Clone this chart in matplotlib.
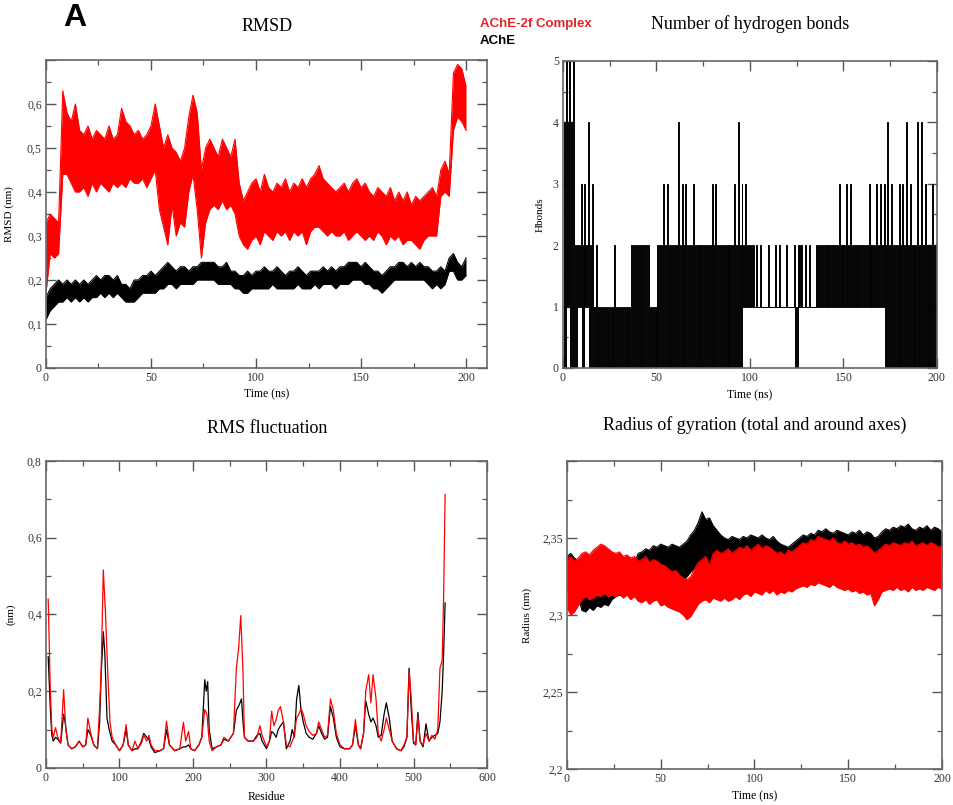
import numpy as np
import matplotlib
matplotlib.use("Agg")
import matplotlib.pyplot as plt
from matplotlib.ticker import MultipleLocator, FuncFormatter

plt.rcParams['font.family'] = ['Liberation Serif', 'DejaVu Serif']

RED = '#ff0000'

# time grid (ns) for the trajectory envelopes, every 2 ns
t_env = np.arange(0, 201, 2)

# RMSD (nm) - AChE-2f complex, upper / lower extent every 2 ns
rmsd_cpx_hi = [0.33, 0.35, 0.34, 0.33, 0.63, 0.58, 0.56, 0.60, 0.54, 0.53,
               0.55, 0.52, 0.54, 0.53, 0.52, 0.55, 0.52, 0.53, 0.59, 0.56,
               0.55, 0.53, 0.54, 0.52, 0.53, 0.55, 0.60, 0.55, 0.50, 0.53,
               0.50, 0.49, 0.47, 0.50, 0.57, 0.62, 0.58, 0.45, 0.50, 0.52,
               0.50, 0.48, 0.52, 0.50, 0.48, 0.52, 0.42, 0.38, 0.40, 0.42,
               0.43, 0.40, 0.44, 0.41, 0.40, 0.42, 0.41, 0.43, 0.40, 0.42,
               0.41, 0.43, 0.41, 0.43, 0.44, 0.46, 0.43, 0.42, 0.41, 0.40,
               0.41, 0.42, 0.40, 0.42, 0.43, 0.41, 0.42, 0.40, 0.39, 0.41,
               0.40, 0.39, 0.41, 0.38, 0.40, 0.38, 0.40, 0.37, 0.39, 0.38,
               0.39, 0.40, 0.41, 0.39, 0.45, 0.47, 0.44, 0.67, 0.69, 0.68,
               0.64]
rmsd_cpx_lo = [0.17, 0.26, 0.25, 0.26, 0.44, 0.44, 0.42, 0.40, 0.40, 0.41,
               0.39, 0.42, 0.40, 0.42, 0.41, 0.40, 0.42, 0.41, 0.42, 0.41,
               0.43, 0.42, 0.42, 0.43, 0.41, 0.43, 0.45, 0.36, 0.32, 0.28,
               0.37, 0.30, 0.33, 0.32, 0.40, 0.44, 0.36, 0.25, 0.33, 0.36,
               0.37, 0.36, 0.38, 0.36, 0.37, 0.35, 0.30, 0.28, 0.27, 0.29,
               0.30, 0.28, 0.31, 0.30, 0.29, 0.31, 0.30, 0.31, 0.29, 0.31,
               0.30, 0.31, 0.28, 0.31, 0.32, 0.32, 0.31, 0.30, 0.31, 0.30,
               0.30, 0.31, 0.29, 0.30, 0.31, 0.30, 0.29, 0.30, 0.29, 0.31,
               0.30, 0.28, 0.30, 0.29, 0.30, 0.28, 0.29, 0.29, 0.28, 0.27,
               0.29, 0.30, 0.30, 0.30, 0.39, 0.40, 0.39, 0.54, 0.57, 0.56,
               0.54]

# RMSD (nm) - apo AChE
rmsd_ache_hi = [0.16, 0.18, 0.19, 0.20, 0.19, 0.20, 0.19, 0.20, 0.19, 0.20,
                0.19, 0.20, 0.21, 0.20, 0.21, 0.21, 0.20, 0.21, 0.19, 0.19,
                0.18, 0.20, 0.20, 0.21, 0.21, 0.22, 0.21, 0.22, 0.23, 0.24,
                0.23, 0.22, 0.23, 0.23, 0.22, 0.23, 0.23, 0.24, 0.24, 0.24,
                0.24, 0.23, 0.23, 0.24, 0.22, 0.22, 0.21, 0.21, 0.22, 0.21,
                0.22, 0.22, 0.23, 0.22, 0.22, 0.23, 0.22, 0.21, 0.22, 0.22,
                0.23, 0.22, 0.21, 0.22, 0.22, 0.22, 0.23, 0.22, 0.23, 0.22,
                0.23, 0.23, 0.24, 0.24, 0.24, 0.23, 0.24, 0.23, 0.22, 0.22,
                0.21, 0.22, 0.23, 0.23, 0.24, 0.24, 0.23, 0.24, 0.23, 0.24,
                0.23, 0.23, 0.22, 0.22, 0.23, 0.22, 0.25, 0.26, 0.24, 0.23,
                0.25]
rmsd_ache_lo = [0.11, 0.13, 0.14, 0.15, 0.15, 0.16, 0.15, 0.16, 0.15, 0.16,
                0.15, 0.16, 0.16, 0.17, 0.16, 0.17, 0.16, 0.17, 0.16, 0.15,
                0.15, 0.15, 0.16, 0.17, 0.17, 0.17, 0.17, 0.18, 0.18, 0.19,
                0.19, 0.18, 0.19, 0.19, 0.19, 0.19, 0.20, 0.20, 0.20, 0.20,
                0.20, 0.19, 0.19, 0.19, 0.19, 0.18, 0.18, 0.17, 0.17, 0.18,
                0.18, 0.18, 0.18, 0.18, 0.19, 0.18, 0.18, 0.18, 0.18, 0.18,
                0.19, 0.18, 0.18, 0.18, 0.19, 0.18, 0.19, 0.19, 0.19, 0.18,
                0.19, 0.19, 0.19, 0.20, 0.20, 0.20, 0.19, 0.19, 0.18, 0.18,
                0.17, 0.18, 0.19, 0.20, 0.20, 0.20, 0.20, 0.20, 0.20, 0.20,
                0.20, 0.19, 0.18, 0.19, 0.18, 0.19, 0.22, 0.22, 0.20, 0.20,
                0.21]

# radius of gyration (nm) - complex
rg_cpx_hi = [2.336, 2.338, 2.335, 2.337, 2.340, 2.341, 2.339, 2.342, 2.344, 2.346,
             2.345, 2.343, 2.341, 2.340, 2.341, 2.338, 2.339, 2.337, 2.338, 2.335,
             2.336, 2.338, 2.334, 2.336, 2.335, 2.333, 2.332, 2.330, 2.328, 2.329,
             2.326, 2.324, 2.323, 2.325, 2.330, 2.334, 2.336, 2.338, 2.332, 2.340,
             2.342, 2.340, 2.341, 2.343, 2.340, 2.342, 2.344, 2.343, 2.345, 2.342,
             2.344, 2.346, 2.343, 2.345, 2.344, 2.342, 2.340, 2.341, 2.339, 2.342,
             2.341, 2.343, 2.345, 2.347, 2.346, 2.349, 2.348, 2.351, 2.350, 2.349,
             2.348, 2.350, 2.347, 2.346, 2.348, 2.346, 2.347, 2.345, 2.346, 2.344,
             2.345, 2.343, 2.340, 2.342, 2.344, 2.346, 2.345, 2.347, 2.346, 2.345,
             2.347, 2.346, 2.348, 2.345, 2.346, 2.347, 2.345, 2.347, 2.346, 2.344,
             2.345]
rg_cpx_lo = [2.305, 2.300, 2.302, 2.306, 2.310, 2.312, 2.310, 2.311, 2.313, 2.312,
             2.314, 2.312, 2.313, 2.312, 2.314, 2.311, 2.313, 2.310, 2.312, 2.309,
             2.308, 2.310, 2.307, 2.309, 2.310, 2.306, 2.307, 2.305, 2.304, 2.303,
             2.302, 2.300, 2.297, 2.299, 2.303, 2.307, 2.309, 2.310, 2.308, 2.311,
             2.310, 2.309, 2.311, 2.309, 2.310, 2.312, 2.310, 2.313, 2.314, 2.312,
             2.315, 2.314, 2.313, 2.316, 2.314, 2.316, 2.313, 2.315, 2.314, 2.316,
             2.315, 2.317, 2.318, 2.319, 2.318, 2.320, 2.319, 2.321, 2.320, 2.319,
             2.318, 2.320, 2.318, 2.317, 2.316, 2.317, 2.315, 2.316, 2.314, 2.315,
             2.313, 2.314, 2.306, 2.310, 2.315, 2.316, 2.317, 2.316, 2.318, 2.316,
             2.317, 2.315, 2.318, 2.316, 2.317, 2.316, 2.318, 2.317, 2.316, 2.318,
             2.317]

# radius of gyration (nm) - apo AChE
rg_ache_hi = [2.338, 2.340, 2.337, 2.335, 2.325, 2.322, 2.324, 2.323, 2.326, 2.325,
              2.327, 2.325, 2.328, 2.330, 2.331, 2.330, 2.332, 2.331, 2.334, 2.340,
              2.341, 2.343, 2.342, 2.345, 2.344, 2.346, 2.345, 2.344, 2.346, 2.345,
              2.344, 2.346, 2.348, 2.352, 2.355, 2.360, 2.367, 2.362, 2.363, 2.358,
              2.355, 2.352, 2.350, 2.349, 2.351, 2.350, 2.349, 2.351, 2.350, 2.352,
              2.351, 2.350, 2.352, 2.350, 2.349, 2.351, 2.348, 2.346, 2.345, 2.344,
              2.346, 2.348, 2.350, 2.352, 2.351, 2.353, 2.352, 2.355, 2.354, 2.356,
              2.354, 2.353, 2.355, 2.354, 2.353, 2.352, 2.354, 2.353, 2.355, 2.352,
              2.354, 2.353, 2.350, 2.351, 2.354, 2.356, 2.355, 2.357, 2.356, 2.358,
              2.357, 2.359, 2.356, 2.355, 2.357, 2.356, 2.358, 2.355, 2.357, 2.356,
              2.354]
rg_ache_lo = [2.315, 2.318, 2.316, 2.312, 2.303, 2.302, 2.305, 2.303, 2.306, 2.305,
              2.307, 2.306, 2.310, 2.312, 2.313, 2.312, 2.313, 2.314, 2.316, 2.320,
              2.322, 2.323, 2.322, 2.324, 2.323, 2.325, 2.324, 2.322, 2.323, 2.321,
              2.320, 2.322, 2.325, 2.328, 2.330, 2.333, 2.335, 2.334, 2.333, 2.332,
              2.331, 2.330, 2.329, 2.330, 2.331, 2.329, 2.331, 2.330, 2.332, 2.331,
              2.330, 2.332, 2.331, 2.330, 2.331, 2.330, 2.329, 2.327, 2.328, 2.326,
              2.327, 2.329, 2.331, 2.332, 2.333, 2.332, 2.334, 2.333, 2.335, 2.334,
              2.333, 2.334, 2.332, 2.333, 2.332, 2.331, 2.333, 2.332, 2.333, 2.331,
              2.332, 2.330, 2.326, 2.329, 2.332, 2.333, 2.334, 2.333, 2.334, 2.333,
              2.332, 2.334, 2.333, 2.332, 2.334, 2.333, 2.334, 2.332, 2.333, 2.331,
              2.332]

# hydrogen bonds per 2 ns window: lowest count, usual upper count, highest spike
hb_low = [0, 1, 0, 0, 1, 0, 1, 0, 0, 0,
          0, 0, 0, 0, 0, 0, 0, 0, 0, 0,
          0, 0, 0, 0, 0, 0, 0, 0, 0, 0,
          0, 0, 0, 0, 0, 0, 0, 0, 0, 0,
          0, 0, 0, 0, 0, 0, 0, 0, 1, 1,
          1, 1, 1, 1, 1, 1, 1, 1, 1, 1,
          1, 1, 0, 1, 1, 1, 1, 1, 1, 1,
          1, 1, 1, 1, 1, 1, 1, 1, 1, 1,
          1, 1, 1, 1, 1, 1, 0, 0, 0, 0,
          0, 0, 0, 0, 0, 0, 0, 0, 0, 0]
hb_high = [4, 4, 4, 2, 2, 2, 2, 2, 1, 1,
           1, 1, 1, 1, 1, 1, 1, 1, 2, 2,
           2, 2, 2, 1, 1, 2, 2, 2, 2, 2,
           2, 2, 2, 2, 2, 2, 2, 2, 2, 2,
           2, 2, 2, 2, 2, 2, 2, 2, 2, 2,
           2, 1, 1, 1, 1, 1, 1, 1, 1, 1,
           1, 1, 1, 2, 1, 1, 1, 1, 2, 2,
           2, 2, 2, 2, 2, 2, 2, 2, 2, 2,
           2, 2, 2, 2, 2, 2, 2, 2, 2, 2,
           2, 2, 2, 2, 2, 2, 2, 2, 2, 2]
hb_peak = [5, 5, 5, 2, 3, 3, 4, 3, 2, 1,
           1, 1, 1, 2, 1, 1, 1, 1, 2, 2,
           2, 2, 2, 1, 1, 2, 3, 3, 2, 2,
           4, 3, 3, 2, 3, 2, 2, 2, 2, 3,
           3, 2, 2, 2, 2, 3, 4, 3, 3, 2,
           2, 2, 2, 1, 2, 1, 2, 2, 1, 2,
           1, 2, 2, 2, 2, 2, 1, 2, 2, 2,
           2, 2, 2, 3, 2, 3, 3, 2, 2, 2,
           2, 3, 2, 3, 3, 3, 4, 3, 2, 3,
           3, 4, 3, 2, 4, 4, 3, 2, 3, 2]

# RMS fluctuation per residue (nm)
res_cpx = [3, 6, 8, 10, 13, 16, 20, 24, 27, 30, 35, 40, 45, 50, 54, 57, 61, 65,
           70, 73, 75, 78, 81, 84, 87, 90, 95, 100, 105, 109, 112, 117, 121,
           125, 130, 133, 137, 140, 143, 148, 155, 160, 164, 168, 175, 182,
           187, 190, 194, 197, 202, 208, 212, 216, 219, 222, 226, 232, 238,
           242, 248, 255, 259, 262, 265, 268, 270, 275, 282, 287, 291, 294,
           300, 304, 307, 310, 313, 316, 319, 323, 327, 332, 337, 341, 344,
           347, 350, 354, 358, 363, 368, 371, 375, 379, 383, 387, 391, 395,
           400, 406, 413, 417, 421, 425, 428, 432, 435, 439, 442, 445, 449,
           452, 456, 460, 463, 467, 471, 477, 483, 487, 491, 494, 497, 500,
           503, 506, 509, 513, 517, 521, 525, 529, 533, 536, 539, 541, 543]
rmsf_cpx = [0.44, 0.195, 0.10, 0.08, 0.105, 0.08, 0.065, 0.204, 0.10, 0.06,
            0.05, 0.055, 0.07, 0.055, 0.06, 0.13, 0.09, 0.06, 0.05, 0.16,
            0.25, 0.516, 0.40, 0.25, 0.12, 0.08, 0.06, 0.045, 0.06, 0.113,
            0.06, 0.045, 0.07, 0.05, 0.065, 0.085, 0.07, 0.085, 0.06, 0.045,
            0.045, 0.05, 0.122, 0.06, 0.045, 0.05, 0.119, 0.07, 0.095, 0.05,
            0.045, 0.06, 0.08, 0.152, 0.14, 0.07, 0.045, 0.055, 0.06, 0.08,
            0.07, 0.09, 0.26, 0.31, 0.397, 0.25, 0.08, 0.07, 0.07, 0.08,
            0.11, 0.085, 0.055, 0.07, 0.148, 0.11, 0.125, 0.15, 0.16, 0.12,
            0.06, 0.055, 0.08, 0.13, 0.14, 0.155, 0.14, 0.11, 0.095, 0.085,
            0.09, 0.12, 0.10, 0.08, 0.085, 0.18, 0.15, 0.09, 0.06, 0.05,
            0.05, 0.06, 0.126, 0.06, 0.05, 0.09, 0.20, 0.243, 0.17, 0.243,
            0.18, 0.09, 0.07, 0.10, 0.13, 0.10, 0.07, 0.05, 0.045, 0.06,
            0.08, 0.252, 0.18, 0.07, 0.06, 0.135, 0.07, 0.06, 0.09, 0.07,
            0.085, 0.075, 0.10, 0.26, 0.28, 0.45, 0.713]

res_ache = [3, 6, 8, 10, 13, 16, 20, 24, 26, 30, 35, 40, 45, 50, 54, 57, 61, 65,
            70, 73, 75, 78, 80, 83, 86, 90, 95, 100, 105, 109, 112, 117, 121,
            125, 130, 133, 137, 140, 143, 148, 155, 160, 164, 168, 175, 182,
            187, 190, 194, 197, 202, 208, 212, 216, 218, 220, 222, 226, 232,
            238, 242, 248, 255, 259, 263, 266, 268, 270, 275, 282, 287, 291,
            294, 300, 304, 307, 310, 313, 316, 319, 323, 327, 332, 335, 338,
            341, 344, 347, 350, 354, 358, 363, 368, 371, 375, 379, 383, 387,
            391, 395, 400, 406, 413, 417, 421, 425, 428, 432, 435, 439, 442,
            445, 449, 452, 456, 460, 463, 467, 471, 477, 483, 487, 491, 494,
            497, 500, 503, 506, 509, 513, 517, 521, 525, 529, 533, 536, 539,
            541, 543]
rmsf_ache = [0.29, 0.15, 0.085, 0.07, 0.08, 0.075, 0.065, 0.14, 0.12, 0.06,
             0.05, 0.055, 0.07, 0.055, 0.06, 0.10, 0.085, 0.06, 0.05, 0.12,
             0.24, 0.355, 0.30, 0.13, 0.10, 0.07, 0.06, 0.045, 0.06, 0.10,
             0.06, 0.045, 0.05, 0.05, 0.07, 0.09, 0.08, 0.075, 0.055, 0.04,
             0.045, 0.05, 0.10, 0.06, 0.045, 0.05, 0.055, 0.055, 0.06, 0.05,
             0.045, 0.06, 0.08, 0.23, 0.20, 0.225, 0.10, 0.05, 0.055, 0.06,
             0.075, 0.07, 0.09, 0.15, 0.165, 0.18, 0.12, 0.08, 0.07, 0.07,
             0.085, 0.09, 0.07, 0.05, 0.07, 0.095, 0.09, 0.08, 0.10, 0.11,
             0.12, 0.05, 0.07, 0.10, 0.08, 0.18, 0.215, 0.15, 0.12, 0.09,
             0.08, 0.075, 0.09, 0.11, 0.09, 0.075, 0.08, 0.16, 0.13, 0.08,
             0.055, 0.05, 0.05, 0.06, 0.11, 0.06, 0.05, 0.09, 0.175, 0.14,
             0.12, 0.13, 0.11, 0.08, 0.085, 0.14, 0.17, 0.13, 0.07, 0.05,
             0.045, 0.055, 0.08, 0.26, 0.15, 0.065, 0.06, 0.145, 0.07, 0.055,
             0.115, 0.07, 0.08, 0.085, 0.09, 0.12, 0.20, 0.30, 0.43]


def noisy_band(ax, t, hi, lo, color, z):
    # the trace swings between its upper and lower readings; show it as a band
    ax.fill_between(t, lo, hi, color=color, lw=0, zorder=z)
    ax.plot(t, hi, color=color, lw=0.8, zorder=z)
    ax.plot(t, lo, color=color, lw=0.8, zorder=z)


def comma(v, pos):
    s = ('%g' % round(v, 3))
    return s.replace('.', ',')


def style(ax, xmaj, xmin, ymaj, ymin):
    ax.xaxis.set_major_locator(MultipleLocator(xmaj))
    ax.xaxis.set_minor_locator(MultipleLocator(xmin))
    ax.yaxis.set_major_locator(MultipleLocator(ymaj))
    ax.yaxis.set_minor_locator(MultipleLocator(ymin))
    ax.tick_params(which='both', direction='in', top=True, right=True,
                   colors='#555555', labelcolor='#333333', labelsize=8.5, pad=3)
    ax.tick_params(which='major', length=7, width=1.0)
    ax.tick_params(which='minor', length=3.5, width=0.9)
    for sp in ax.spines.values():
        sp.set_color('#666666')
        sp.set_linewidth(1.2)
        sp.set_zorder(5)
    ax.xaxis.set_major_formatter(FuncFormatter(comma))
    ax.yaxis.set_major_formatter(FuncFormatter(comma))


fig = plt.figure(figsize=(9.54, 8.05), dpi=100)

# RMSD
ax1 = fig.add_axes([0.0482, 0.5429, 0.4623, 0.3826])
noisy_band(ax1, t_env, rmsd_ache_hi, rmsd_ache_lo, 'black', 2)
noisy_band(ax1, t_env, rmsd_cpx_hi, rmsd_cpx_lo, RED, 3)
ax1.set_xlim(0, 210)
ax1.set_ylim(0, 0.7)
style(ax1, 50, 25, 0.1, 0.05)
ax1.yaxis.set_major_formatter(FuncFormatter(lambda v, p: '' if v > 0.65 else comma(v, p)))
ax1.set_xlabel('Time (ns)', fontsize=8.5)
ax1.set_ylabel('RMSD (nm)', fontsize=8)
ax1.xaxis.set_label_coords(0.5, -0.065)
ax1.yaxis.set_label_coords(-0.073, 0.5)

# hydrogen bonds
ax2 = fig.add_axes([0.5901, 0.5429, 0.392, 0.3814])
hb_t = np.arange(0, 200, 2)
hx = (hb_t[:, None] + np.array([0, 0.5, 1.0, 1.5])[None, :]).ravel()
hy = np.column_stack([hb_low, hb_high, hb_low, hb_peak]).ravel()
ax2.plot(np.append(hx, 200), np.append(hy, hb_high[-1]),
         color='black', lw=0.7, drawstyle='steps-post')
ax2.set_xlim(0, 200)
ax2.set_ylim(0, 5)
style(ax2, 50, 25, 1, 0.5)
ax2.set_xlabel('Time (ns)', fontsize=8.5)
ax2.set_ylabel('Hbonds', fontsize=8)
ax2.xaxis.set_label_coords(0.5, -0.07)
ax2.yaxis.set_label_coords(-0.048, 0.5)

# RMS fluctuation
ax3 = fig.add_axes([0.0482, 0.046, 0.4623, 0.3814])
ax3.plot(res_ache, rmsf_ache, color='black', lw=0.9)
ax3.plot(res_cpx, rmsf_cpx, color=RED, lw=0.9)
ax3.set_xlim(0, 600)
ax3.set_ylim(0, 0.8)
style(ax3, 100, 50, 0.2, 0.1)
ax3.set_xlabel('Residue', fontsize=8.5)
ax3.set_ylabel('(nm)', fontsize=8)
ax3.xaxis.set_label_coords(0.5, -0.075)
ax3.yaxis.set_label_coords(-0.068, 0.5)

# radius of gyration
ax4 = fig.add_axes([0.5943, 0.0447, 0.3931, 0.3826])
noisy_band(ax4, t_env, rg_ache_hi, rg_ache_lo, 'black', 2)
noisy_band(ax4, t_env, rg_cpx_hi, rg_cpx_lo, RED, 3)
ax4.set_xlim(0, 200)
ax4.set_ylim(2.2, 2.4)
style(ax4, 50, 25, 0.05, 0.025)
ax4.yaxis.set_major_formatter(FuncFormatter(lambda v, p: '' if v > 2.375 else comma(v, p)))
ax4.set_xlabel('Time (ns)', fontsize=8.5)
ax4.set_ylabel('Radius (nm)', fontsize=8)
ax4.xaxis.set_label_coords(0.5, -0.068)
ax4.yaxis.set_label_coords(-0.093, 0.5)

# panel titles
fig.text(0.28, 0.9665, 'RMSD', ha='center', va='center', fontsize=13)
fig.text(0.786, 0.970, 'Number of hydrogen bonds', ha='center', va='center', fontsize=13)
fig.text(0.28, 0.468, 'RMS fluctuation', ha='center', va='center', fontsize=13)
fig.text(0.791, 0.472, 'Radius of gyration (total and around axes)',
         ha='center', va='center', fontsize=13)

# panel letter and legend
fig.text(0.078, 0.978, 'A', ha='center', va='center', fontsize=23,
         fontweight='bold', family='Liberation Sans')
fig.text(0.503, 0.970, 'AChE-2f Complex', ha='left', va='center', fontsize=9.5,
         fontweight='bold', color='#e3222b', family='Liberation Sans')
fig.text(0.503, 0.949, 'AChE', ha='left', va='center', fontsize=9.5,
         fontweight='bold', color='black', family='Liberation Sans')

fig.savefig('out.png', dpi=100)
